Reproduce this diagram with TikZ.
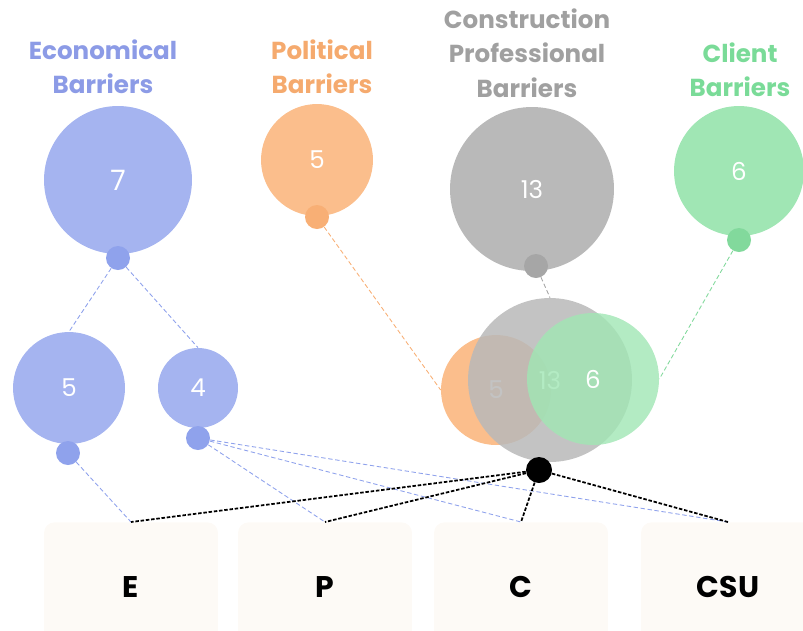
\documentclass[tikz,border=0pt]{standalone}
\usepackage{fontspec}
\setmainfont{Poppins}
\usetikzlibrary{positioning}
\definecolor{ecofill}{HTML}{A5B4F0}
\definecolor{ecodot}{HTML}{8FA2EC}
\definecolor{ecotext}{HTML}{8C9BE6}
\definecolor{polfill}{HTML}{FBBE8C}
\definecolor{poldot}{HTML}{F8AF75}
\definecolor{poltext}{HTML}{F5AA6E}
\definecolor{cpbfill}{HTML}{B9B9B9}
\definecolor{cpbdot}{HTML}{A6A6A6}
\definecolor{cpbtext}{HTML}{A0A0A0}
\definecolor{clifill}{HTML}{A0E6B4}
\definecolor{clidot}{HTML}{82D99C}
\definecolor{clitext}{HTML}{7ADB98}
\definecolor{boxfill}{HTML}{FDFAF6}

\begin{document}
\begin{tikzpicture}[x=0.02cm, y=-0.02cm,
    title/.style={align=center, font=\bfseries\fontsize{14}{19.5}\selectfont},
    bubble/.style={circle, inner sep=0pt, text=white, font=\fontsize{14}{14}\selectfont},
    dot/.style={circle, inner sep=0pt, minimum size=0.48cm},
    link/.style={dash pattern=on 2.5pt off 1.5pt, line width=0.5pt},
    blacklink/.style={dash pattern=on 2pt off 1pt, line width=1pt, black},
    catbox/.style={rounded corners=6pt, fill=boxfill, minimum width=3.48cm, minimum height=2.6cm, font=\bfseries\fontsize{17}{17}\selectfont}]
    \useasboundingbox (0,0) rectangle (803,630);

    % titles
    \node[title, text=ecotext] (ecotitle) at (103,67) {Economical\\Barriers};
    \node[title, text=poltext] (poltitle) at (322,67) {Political\\Barriers};
    \node[title, text=cpbtext] (cpbtitle) at (527,53) {Construction\\Professional\\Barriers};
    \node[title, text=clitext] (clititle) at (740,70) {Client\\Barriers};

    % top circles
    \node[bubble, fill=ecofill, minimum size=2.96cm, font=\fontsize{16}{16}\selectfont] (eco) at (118,180) {7};
    \node[bubble, fill=polfill, minimum size=2.24cm] (pol) at (317,160) {5};
    \node[bubble, fill=cpbfill, minimum size=3.28cm] (cpb) at (532,189) {13};
    \node[bubble, fill=clifill, minimum size=2.6cm] (cli) at (739,171) {6};

    % middle circles
    \node[bubble, fill=ecofill, minimum size=2.24cm] (eco5) at (69,388) {5};
    \node[bubble, fill=ecofill, minimum size=1.6cm] (eco4) at (198,388) {4};

    % overlapping group
    \node[bubble, fill=polfill, minimum size=2.2cm] (polc) at (496,390) {5};
    \node[bubble, fill=cpbfill, fill opacity=0.85, text opacity=1, minimum size=3.28cm] (cpbc) at (550,380) {13};
    \node[bubble, fill=clifill, fill opacity=0.8, text opacity=1, minimum size=2.64cm] (clic) at (593,379) {6};

    % bottom boxes
    \node[catbox, anchor=north] (boxE) at (131,522) {E};
    \node[catbox, anchor=north] (boxP) at (325,522) {P};
    \node[catbox, anchor=north] (boxC) at (521,522) {C};
    \node[catbox, anchor=north] (boxCSU) at (728,522) {CSU};

    % dots
    \node[dot, fill=ecodot] (ecod) at (118,258) {};
    \node[dot, fill=poldot] (pold) at (317,217) {};
    \node[dot, fill=cpbdot] (cpbd) at (536,266) {};
    \node[dot, fill=clidot] (clid) at (739,240) {};
    \node[dot, fill=ecodot] (eco5d) at (68,453) {};
    \node[dot, fill=ecodot] (eco4d) at (198,438) {};
    \node[dot, fill=black, minimum size=0.52cm] (hub) at (539,470) {};

    % connectors
    \draw[link, ecodot] (ecod) -- (eco5.north);
    \draw[link, ecodot] (ecod) -- (eco4.north);
    \draw[link, poldot] (pold) -- (polc.west);
    \draw[link, cpbdot] (cpbd) -- (cpbc.north);
    \draw[link, clidot] (clid) -- (clic.east);
    \draw[link, ecodot] (eco5d) -- (boxE.north);
    \draw[link, ecodot] (eco4d) -- (boxP.north);
    \draw[link, ecodot] (eco4d) -- (boxC.north);
    \draw[link, ecodot] (eco4d) -- (boxCSU.north);
    \draw[blacklink] (hub) -- (boxE.north);
    \draw[blacklink] (hub) -- (boxP.north);
    \draw[blacklink] (hub) -- (boxC.north);
    \draw[blacklink] (hub) -- (boxCSU.north);
\end{tikzpicture}
\end{document}
